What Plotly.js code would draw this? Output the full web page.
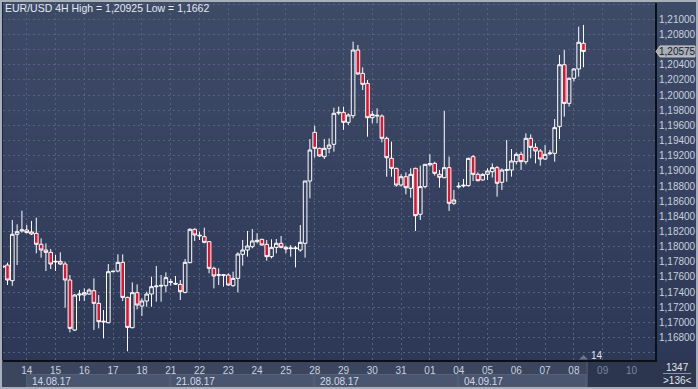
<!DOCTYPE html>
<html><head><meta charset="utf-8">
<script src="https://cdn.plot.ly/plotly-3.0.1.min.js"></script>
<style>html,body{margin:0;padding:0;background:#36425e;}#chart{width:698px;height:389px;}</style>
</head><body><div id="chart"></div>
<script>
// ---------- DATA ----------
const dayLabels = ['14','15','16','17','18','21','22','23','24','25','28','29','30','31','01','04','05','06','07','08','09','10'];
const futureDayLabels = ['09','10'];
const weekLabels = ['14.08.17','21.08.17','28.08.17','04.09.17'];
const barsPerDay = 6;          // 4H bars
const firstBarOffset = -5;     // first visible bar relative to 14.08 00:00
const priceTicks = [1.166,1.168,1.170,1.172,1.174,1.176,1.178,1.180,1.182,1.184,1.186,1.188,1.190,1.192,1.194,1.196,1.198,1.200,1.202,1.204,1.206,1.208,1.210,1.212];
const chartTitle = 'EUR/USD 4H High = 1,20925 Low = 1,1662';
const barCounter = '14';
const footerTop = '1347';
const footerBottom = '>136<';

const candleOpen = [
1.17730,1.17758,1.17551,1.18163,1.18207,
1.18220,1.18194,1.18176,1.18031,1.17956,1.17925,
1.17798,1.17806,1.17771,1.17560,1.16900,1.17362,
1.17362,1.17375,1.17419,1.17252,1.17005,1.16997,
1.17670,1.17679,1.17793,1.17331,1.16931,1.17393,
1.17217,1.17283,1.17375,1.17472,1.17480,1.17485,
1.17529,1.17516,1.17503,1.17397,1.17789,1.18229,
1.18141,1.18132,1.18066,1.17714,1.17622,1.17630,
1.17626,1.17485,1.17582,1.17899,1.17956,1.18000,
1.18066,1.18097,1.18031,1.17868,1.17991,1.18044,
1.17991,1.17974,1.17974,1.17956,1.18044,1.18866,
1.19508,1.19297,1.19187,1.19297,1.19350,1.19763,
1.19772,1.19640,1.19728,1.20594,1.20286,1.20154,
1.19701,1.19723,1.19723,1.19429,1.19165,1.19033,
1.18813,1.18923,1.18770,1.19033,1.18427,1.18792,
1.19080,1.19099,1.18954,1.18910,1.19042,1.18572,
1.18788,1.18800,1.18805,1.19187,1.18954,1.18880,
1.18954,1.18989,1.19042,1.18849,1.19007,1.19011,
1.19121,1.19218,1.19121,1.19429,1.19310,1.19262,
1.19156,1.19225,1.19231,1.19583,1.20400,1.19891,
1.20221,1.20344,1.20683];
const candleHigh = [
1.17752,1.17789,1.18352,1.18295,1.18475,
1.18286,1.18339,1.18383,1.18110,1.18044,1.17969,
1.17890,1.17925,1.17802,1.17626,1.17375,1.17428,
1.17450,1.17450,1.17582,1.17362,1.17164,1.17771,
1.17685,1.17899,1.17899,1.17340,1.17529,1.17503,
1.17318,1.17406,1.17604,1.17745,1.17626,1.17661,
1.17573,1.17613,1.17560,1.17837,1.18242,1.18242,
1.18198,1.18251,1.18075,1.17736,1.17714,1.17635,
1.17648,1.17670,1.17925,1.18088,1.18207,1.18233,
1.18176,1.18101,1.18088,1.18097,1.18101,1.18141,
1.18013,1.18022,1.18009,1.18286,1.18866,1.19420,
1.19596,1.19305,1.19420,1.19429,1.19833,1.19847,
1.19847,1.19759,1.20704,1.20660,1.20365,1.20198,
1.19789,1.19825,1.19745,1.19451,1.19385,1.19042,
1.18954,1.18981,1.19033,1.19042,1.19069,1.19086,
1.19218,1.19121,1.19011,1.19790,1.19187,1.18748,
1.18849,1.18893,1.19174,1.19209,1.18981,1.18967,
1.19033,1.19099,1.19064,1.19033,1.19407,1.19288,
1.19244,1.19253,1.19495,1.19482,1.19363,1.19288,
1.19341,1.19275,1.19684,1.20529,1.20594,1.20230,
1.20353,1.20902,1.20925];
const candleLow = [
1.17718,1.17494,1.17485,1.17758,1.18185,
1.18176,1.18154,1.17912,1.17855,1.17679,1.17705,
1.17679,1.17758,1.17195,1.16869,1.16887,1.17283,
1.17283,1.17362,1.16900,1.16922,1.16790,1.16988,
1.17660,1.17661,1.17283,1.16620,1.16922,1.17173,
1.17085,1.17208,1.17208,1.17274,1.17274,1.17397,
1.17485,1.17494,1.17296,1.17384,1.17780,1.18075,
1.18088,1.18044,1.17648,1.17450,1.17494,1.17472,
1.17485,1.17472,1.17397,1.17749,1.17868,1.17978,
1.18044,1.18013,1.17815,1.17846,1.17912,1.17978,
1.17912,1.17868,1.17727,1.17934,1.17855,1.18637,
1.19174,1.19187,1.19156,1.19231,1.19253,1.19737,
1.19540,1.19605,1.19693,1.20264,1.20066,1.19451,
1.19627,1.19627,1.19376,1.18923,1.18923,1.18790,
1.18790,1.18690,1.18646,1.18206,1.18352,1.18770,
1.19055,1.18937,1.18778,1.18902,1.18471,1.18550,
1.18770,1.18780,1.18792,1.18866,1.18862,1.18870,
1.18880,1.18911,1.18660,1.18748,1.18858,1.18924,
1.19086,1.19011,1.19086,1.19165,1.19099,1.19068,
1.19143,1.19209,1.19121,1.19420,1.19715,1.19847,
1.20177,1.20242,1.20366];
const candleClose = [
1.17742,1.17560,1.18163,1.18198,1.18220,
1.18185,1.18167,1.18031,1.17956,1.17925,1.17771,
1.17806,1.17771,1.17560,1.16922,1.17362,1.17375,
1.17393,1.17428,1.17252,1.17010,1.17015,1.17670,
1.17675,1.17793,1.17331,1.16935,1.17393,1.17230,
1.17283,1.17375,1.17472,1.17480,1.17489,1.17591,
1.17538,1.17507,1.17406,1.17793,1.18229,1.18154,
1.18150,1.18057,1.17714,1.17613,1.17630,1.17622,
1.17494,1.17582,1.17903,1.17956,1.18009,1.18075,
1.18084,1.18022,1.17868,1.17991,1.18044,1.17991,
1.17969,1.17982,1.17982,1.18057,1.18866,1.19275,
1.19297,1.19196,1.19297,1.19341,1.19759,1.19772,
1.19640,1.19737,1.20594,1.20278,1.20141,1.19701,
1.19745,1.19732,1.19429,1.19174,1.19033,1.18813,
1.18923,1.18778,1.18954,1.18409,1.18792,1.19086,
1.19095,1.18967,1.18915,1.19042,1.18572,1.18616,
1.18797,1.18810,1.19165,1.18954,1.18870,1.18954,
1.18998,1.19042,1.18836,1.19011,1.19015,1.19130,
1.19218,1.19121,1.19429,1.19310,1.19262,1.19156,
1.19218,1.19235,1.19570,1.20400,1.19890,1.20221,
1.20344,1.20696,1.20575];

// ---------- GEOMETRY / STYLE ----------
const W = 698, H = 389, mL = 3, mR = 43, mT = 3, mB = 29;
const plotW = W - mL - mR, plotH = H - mT - mB;
const xMin = -4.94, xMax = 130.9, yMin = 1.16505, yMax = 1.21214;
const px = X => (X - mL) / plotW;
const py = Y => (H - mB - Y) / plotH;
const xToPx = v => mL + (v - xMin) / (xMax - xMin) * plotW;
const yToPx = v => mT + (yMax - v) / (yMax - yMin) * plotH;
const fmt = v => v.toFixed(5).replace('.', ',');

const xs = candleOpen.map((_, i) => firstBarOffset + i);
const lastX = xs[xs.length - 1];
const lastClose = candleClose[candleClose.length - 1];

const tickVals = dayLabels.map((_, i) => i * barsPerDay);
const tickText = dayLabels.map(d => futureDayLabels.includes(d) ? '<span style="color:#7d879c">' + d + '</span>' : d);
// first/last grid lines carry no label; the label hidden by the price tag is dropped
const yTickText = priceTicks.map((v, i) =>
  (i === 0 || i === priceTicks.length - 1 || Math.abs(v - lastClose) < 0.001) ? '' : fmt(v));

const shapes = [];
// gradient background
const nBands = 40, gradTop = [62, 75, 103], gradBot = [45, 56, 86];
for (let k = 0; k < nBands; k++) {
  const t = (k + 0.5) / nBands;
  const c = gradTop.map((a, j) => Math.round(a + (gradBot[j] - a) * t));
  const Y0 = k * 360 / nBands, Y1 = (k + 1) * 360 / nBands + 0.5;
  shapes.push({type: 'rect', xref: 'paper', yref: 'paper', layer: 'below',
    x0: px(0), x1: px(W), y0: py(Y1), y1: py(Y0),
    fillcolor: `rgb(${c[0]},${c[1]},${c[2]})`, line: {width: 0}});
}
// x-axis strip
const futureX = xToPx(lastX + 0.75);
shapes.push({type: 'rect', xref: 'paper', yref: 'paper', layer: 'below',
  x0: px(0), x1: px(655), y0: py(H), y1: py(360), fillcolor: '#3b465e', line: {width: 0}});
shapes.push({type: 'rect', xref: 'paper', yref: 'paper', layer: 'below',
  x0: px(futureX), x1: px(655), y0: py(H), y1: py(360), fillcolor: '#2c364e', line: {width: 0}});
shapes.push({type: 'line', xref: 'paper', yref: 'paper', layer: 'below',
  x0: px(futureX), x1: px(futureX), y0: py(H), y1: py(360), line: {color: '#59647c', width: 1}});
shapes.push({type: 'rect', xref: 'paper', yref: 'paper', layer: 'below',
  x0: px(655), x1: px(W), y0: py(H), y1: py(360), fillcolor: '#2c364f', line: {width: 0}});
// week boxes
weekLabels.forEach((w, k) => {
  const a = xToPx(k * 5 * barsPerDay);
  const b = k < weekLabels.length - 1 ? xToPx((k + 1) * 5 * barsPerDay) - 1 : futureX - 1;
  shapes.push({type: 'rect', xref: 'paper', yref: 'paper', layer: 'below',
    x0: px(a), x1: px(b), y0: py(387), y1: py(374.5), fillcolor: '#4a566f', line: {color: '#56627b', width: 1}});
});
// left plot border
shapes.push({type: 'line', xref: 'paper', yref: 'paper', x0: px(2.5), x1: px(2.5), y0: py(360), y1: py(2), line: {color: '#1c2336', width: 1}});
// footer separator line
shapes.push({type: 'line', xref: 'paper', yref: 'paper', x0: px(663), x1: px(691), y0: py(373.5), y1: py(373.5), line: {color: '#8c96aa', width: 1}});
// bar marker triangle
const mX = xToPx(lastX);
shapes.push({type: 'path', xref: 'paper', yref: 'paper',
  path: `M ${px(mX - 4.5)} ${py(359.5)} L ${px(mX + 4.5)} ${py(359.5)} L ${px(mX)} ${py(355)} Z`,
  fillcolor: '#6c778f', line: {width: 0}});
// price tag
const tagY = yToPx(lastClose);
shapes.push({type: 'path', xref: 'paper', yref: 'paper',
  path: `M ${px(656)} ${py(tagY)} L ${px(660)} ${py(tagY - 5.5)} L ${px(695)} ${py(tagY - 5.5)} L ${px(695)} ${py(tagY + 5.5)} L ${px(660)} ${py(tagY + 5.5)} Z`,
  fillcolor: '#a9aeb7', line: {color: '#c4c8ce', width: 1}});
// outer frame
shapes.push({type: 'rect', xref: 'paper', yref: 'paper',
  x0: px(1), x1: px(W - 1), y0: py(H - 1), y1: py(1), line: {color: '#a7afbb', width: 2}});

const font = 'Liberation Sans, Arial, sans-serif';
const annotations = [
  {text: chartTitle, xref: 'paper', yref: 'paper', x: px(3), y: py(8.5), xanchor: 'left', yanchor: 'middle', showarrow: false,
   font: {family: font, size: 10.5, color: '#e6eaf1'}},
  {text: fmt(lastClose), xref: 'paper', yref: 'paper', x: px(677), y: py(tagY), xanchor: 'center', yanchor: 'middle', showarrow: false,
   font: {family: font, size: 10, color: '#151a25'}},
  {text: barCounter, xref: 'paper', yref: 'paper', x: px(mX + 6), y: py(355.5), xanchor: 'left', yanchor: 'middle', showarrow: false,
   font: {family: font, size: 10, color: '#dfe4ec'}},
  {text: footerTop, xref: 'paper', yref: 'paper', x: px(677), y: py(367.5), xanchor: 'center', yanchor: 'middle', showarrow: false,
   font: {family: font, size: 10, color: '#e2e6ee'}},
  {text: footerBottom.replace('<', '&lt;').replace('>', '&gt;'), xref: 'paper', yref: 'paper', x: px(677), y: py(380.5), xanchor: 'center', yanchor: 'middle', showarrow: false,
   font: {family: font, size: 10, color: '#e2e6ee'}}
];
weekLabels.forEach((w, k) => {
  annotations.push({text: w, xref: 'paper', yref: 'paper', x: px(xToPx(k * 5 * barsPerDay) + 3), y: py(381), xanchor: 'left', yanchor: 'middle',
    showarrow: false, font: {family: font, size: 10, color: '#d3d9e3'}});
});

const trace = {
  type: 'candlestick', x: xs, open: candleOpen, high: candleHigh, low: candleLow, close: candleClose,
  increasing: {line: {color: '#ffffff', width: 1}, fillcolor: 'rgba(0,0,0,0)'},
  decreasing: {line: {color: '#ffffff', width: 1}, fillcolor: '#e3122f'},
  whiskerwidth: 0, hoverinfo: 'none', showlegend: false
};

const grid = '#55617d';
const layout = {
  width: W, height: H, margin: {l: mL, r: mR, t: mT, b: mB, pad: 0},
  paper_bgcolor: '#36425e', plot_bgcolor: 'rgba(0,0,0,0)',
  separators: ', ', boxgap: 0.25, boxgroupgap: 0, showlegend: false,
  font: {family: font, size: 10, color: '#c9d1de'},
  xaxis: {range: [xMin, xMax], tickmode: 'array', tickvals: tickVals, ticktext: tickText,
    showgrid: true, gridcolor: grid, griddash: '2px,3px', gridwidth: 1, zeroline: false,
    showline: true, linecolor: '#0b0f18', linewidth: 2, ticks: '', rangeslider: {visible: false},
    tickfont: {family: font, size: 10, color: '#c9d1de'}, fixedrange: true},
  yaxis: {range: [yMin, yMax], side: 'right', tickmode: 'array', tickvals: priceTicks, ticktext: yTickText,
    showgrid: true, gridcolor: grid, griddash: '2px,3px', gridwidth: 1, zeroline: false,
    showline: true, linecolor: '#0b0f18', linewidth: 2, ticks: '',
    tickfont: {family: font, size: 10, color: '#c9d1de'}, fixedrange: true},
  shapes: shapes, annotations: annotations
};
Plotly.newPlot('chart', [trace], layout, {staticPlot: true, displayModeBar: false});
</script></body></html>
